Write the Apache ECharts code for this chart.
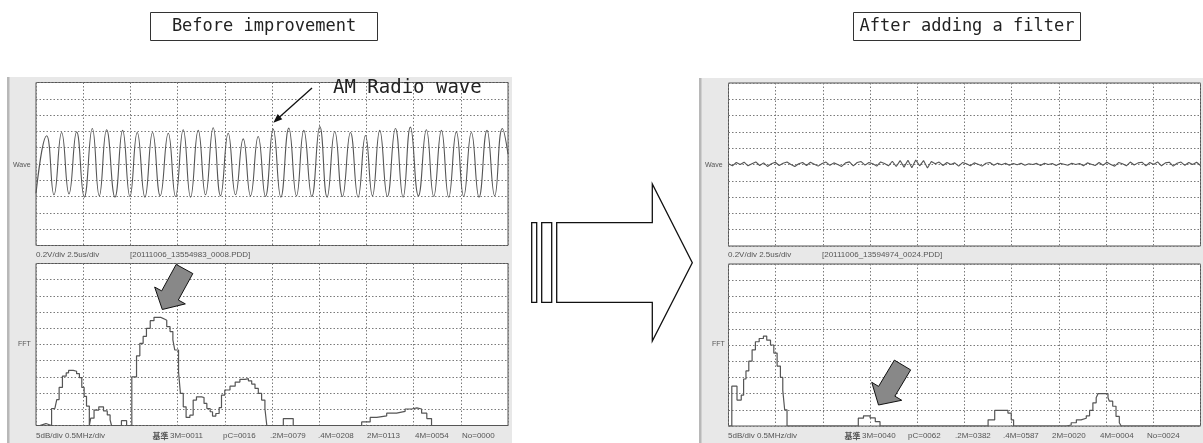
<!DOCTYPE html>
<html><head><meta charset="utf-8">
<script src="https://cdn.jsdelivr.net/npm/echarts@6/dist/echarts.min.js"></script>
<style>html,body{margin:0;padding:0;background:#fff}#c{width:1203px;height:443px}</style>
</head><body><div id="c"></div>
<script>
// ---- Data (time / frequency in divisions, amplitude in divisions) ----
// Before: AM radio wave, extrema
const waveBeforeT = [0,0.226,0.381,0.543,0.699,0.861,1.023,1.193,1.341,1.496,1.673,1.835,1.990,2.145,2.308,2.470,2.632,2.802,2.957,3.119,3.275,3.437,3.592,3.754,3.910,4.072,4.227,4.390,4.545,4.707,4.862,5.025,5.187,5.356,5.519,5.674,5.843,6.013,6.168,6.330,6.493,6.662,6.824,6.980,7.128,7.283,7.445,7.615,7.777,7.932,8.102,8.271,8.426,8.589,8.744,8.906,9.061,9.224,9.386,9.555,9.718,9.880,10];
const waveBeforeV = [-1.8,1.73,-1.89,1.93,-1.83,1.97,-2.03,2.18,-1.95,2.10,-2.03,2.06,-1.99,1.93,-2.03,1.93,-1.95,1.89,-1.99,2.10,-2.03,2.06,-1.89,2.22,-1.95,1.89,-1.89,1.54,-1.95,1.69,-1.99,2.14,-2.03,2.20,-1.95,2.06,-1.99,2.30,-2.03,1.99,-1.99,1.93,-2.03,1.75,-1.95,2.06,-1.99,2.18,-2.03,2.26,-1.95,2.10,-1.99,2.06,-2.03,1.97,-1.99,1.93,-2.03,2.06,-1.95,2.18,0.6];
// After: residual noise, equally spaced samples across the 10 divisions
const waveAfterV = [0.05,-0.08,0.12,0.0,0.14,-0.08,0.05,0.16,-0.06,0.1,-0.12,0.05,0.14,
 -0.06,0.08,0.15,0.0,-0.12,0.05,0.12,-0.06,0.14,0.02,-0.1,0.06,
 0.15,-0.05,0.1,0.0,-0.12,0.1,0.16,-0.08,0.12,0.18,-0.04,0.12,
 0.05,-0.1,0.16,0.06,-0.08,0.2,-0.12,0.24,-0.16,0.26,-0.2,0.28,
 -0.08,0.24,-0.22,0.18,0.04,0.15,-0.06,0.12,0.0,0.1,-0.1,0.12,
 0.04,-0.08,0.1,0.02,-0.1,0.08,0.12,-0.05,0.07,-0.02,0.08,-0.05,
 0.06,-0.02,0.08,-0.04,0.05,0.0,0.07,-0.06,0.08,0.0,0.06,-0.06,
 0.07,0.02,-0.05,0.08,0.0,0.06,-0.08,0.1,0.02,-0.06,0.12,-0.05,
 0.14,0.0,-0.1,0.12,0.05,-0.08,0.15,-0.03,0.1,0.14,-0.08,0.12,
 0.0,0.16,-0.08,0.1,0.14,-0.1,0.08,0.15,-0.05,0.12,0.0,0.14,-0.06];
// FFT step levels: frequency (div, 0.5 MHz/div) where a level starts, and level (div, 5 dB/div)
const fftBeforeF = [0,0.08,0.21,0.33,0.40,0.44,0.49,0.56,0.64,0.69,0.79,0.86,0.92,0.97,1.02,1.07,1.13,1.16,1.23,1.33,1.43,1.51,1.57,1.60,1.81,1.92,2.03,2.13,2.20,2.27,2.34,2.42,2.50,2.64,2.70,2.77,2.84,2.90,2.94,3.02,3.06,3.12,3.18,3.26,3.33,3.40,3.51,3.56,3.62,3.69,3.74,3.81,3.88,3.93,4.00,4.11,4.22,4.32,4.43,4.50,4.57,4.64,4.71,4.78,4.85,4.89,5.24,5.45,6.90,7.08,7.22,7.43,7.64,7.82,7.96,8.07,8.17,8.28,8.38,10];
const fftBeforeL = [0,0.12,0,1.05,1.1,1.6,2.35,3.05,3.25,3.4,3.35,3.2,2.95,2.35,1.8,1.2,0,0.45,0.95,1.15,0.9,0.65,0.35,0,0.3,0,3.0,4.3,5.07,5.5,6.0,6.47,6.68,6.6,6.5,6.1,5.8,5.28,4.66,3.3,1.98,1.15,0.5,0.64,1.57,1.77,1.73,1.36,1.05,0.85,0.58,0.74,1.1,1.88,2.19,2.43,2.68,2.85,2.89,2.76,2.56,2.29,1.98,1.57,1.05,0,0.43,0,0.22,0.5,0.59,0.76,0.87,1.02,1.09,1.02,0.76,0.43,0,0];
const fftAfterF = [0,0.07,0.18,0.27,0.32,0.37,0.43,0.50,0.57,0.65,0.74,0.81,0.89,0.96,1.03,1.10,1.15,1.19,1.24,2.75,2.86,3.00,3.11,3.21,5.50,5.64,5.92,5.99,6.04,7.16,7.26,7.37,7.47,7.58,7.65,7.72,7.79,7.83,8.04,8.07,8.14,8.21,8.28,8.32,10];
const fftAfterL = [0,2.46,1.6,1.9,2.9,3.4,4.0,4.7,5.2,5.4,5.55,5.3,5.0,4.5,3.7,3.0,2.2,1.0,0,0.48,0.63,0.5,0.27,0,0.38,0.96,0.8,0.38,0,0.06,0.2,0.38,0.48,0.63,0.96,1.43,1.74,2.0,1.74,1.53,1.22,0.59,0.2,0,0];

const pairs = (xs, ys) => xs.map((x, i) => [x, ys[i]]);
const afterPairs = waveAfterV.map((v, i) => [i * 10 / (waveAfterV.length - 1), v]);

const chart = echarts.init(document.getElementById('c'), null, {renderer: 'canvas'});

const grids = [
  {left: 36, top: 82.5, width: 472, height: 163},
  {left: 36, top: 263.5, width: 472, height: 162},
  {left: 728.5, top: 83, width: 472, height: 163},
  {left: 728.5, top: 264, width: 472, height: 162}
].map(g => Object.assign({show: true, backgroundColor: '#fff', borderColor: '#555', borderWidth: 1, containLabel: false}, g));

const dotted = {show: true, lineStyle: {color: '#7a7a7a', width: 1, type: [1.5, 2]}};
const xAxes = [0,1,2,3].map(i => ({type: 'value', gridIndex: i, min: 0, max: 10, interval: 1,
  axisLine: {show: false}, axisTick: {show: false}, axisLabel: {show: false}, splitLine: dotted}));
const yAxes = [0,1,2,3].map(i => ({type: 'value', gridIndex: i,
  min: i % 2 === 0 ? -5 : 0, max: i % 2 === 0 ? 5 : 10, interval: 1,
  axisLine: {show: false}, axisTick: {show: false}, axisLabel: {show: false}, splitLine: dotted}));

const lineBase = {type: 'line', symbol: 'none', animation: false, silent: true};
const series = [
  Object.assign({}, lineBase, {xAxisIndex: 0, yAxisIndex: 0, data: pairs(waveBeforeT, waveBeforeV), smooth: 0.5,
    lineStyle: {color: '#555', width: 1.1}}),
  Object.assign({}, lineBase, {xAxisIndex: 1, yAxisIndex: 1, data: pairs(fftBeforeF, fftBeforeL), step: 'end',
    lineStyle: {color: '#555', width: 1.2}}),
  Object.assign({}, lineBase, {xAxisIndex: 2, yAxisIndex: 2, data: afterPairs,
    lineStyle: {color: '#555', width: 1.1}}),
  Object.assign({}, lineBase, {xAxisIndex: 3, yAxisIndex: 3, data: pairs(fftAfterF, fftAfterL), step: 'end',
    lineStyle: {color: '#555', width: 1.2}})
];

// ---- Decorations ----
const small = '8px "Liberation Sans", Arial, sans-serif';
const txtColor = '#555';
function T(x, y, text, font, fill, align, vAlign, z) {
  return {type: 'text', x: x, y: y, z: z || 5, silent: true,
    style: {text: text, font: font || small, fill: fill || txtColor, align: align || 'left', verticalAlign: vAlign || 'middle'}};
}
function arrowPoly(tx, ty, px, py, w, h, hl) {
  const dx = px - tx, dy = py - ty, L = Math.hypot(dx, dy);
  const d = [dx / L, dy / L], n = [d[1], -d[0]];
  const bx = px - hl * d[0], by = py - hl * d[1];
  return [[tx + w*n[0], ty + w*n[1]], [bx + w*n[0], by + w*n[1]], [bx + h*n[0], by + h*n[1]], [px, py],
          [bx - h*n[0], by - h*n[1]], [bx - w*n[0], by - w*n[1]], [tx - w*n[0], ty - w*n[1]]];
}
const graphics = [];
// panels
[[8, 77, 504], [700, 78, 503]].forEach(([x, y, w]) => {
  graphics.push({type: 'rect', z: -10, silent: true, shape: {x: x, y: y, width: w, height: 443 - y}, style: {fill: '#e8e8e8'}});
  graphics.push({type: 'rect', z: -9, silent: true, shape: {x: x - 1, y: y, width: 2.5, height: 443 - y}, style: {fill: '#b8b8b8'}});
});
// titles
[[150, 'Before improvement'], [853, 'After adding a filter']].forEach(([x, t]) => {
  graphics.push({type: 'rect', z: 5, silent: true, shape: {x: x + 0.5, y: 12.5, width: 227, height: 28}, style: {fill: '#fff', stroke: '#333', lineWidth: 1}});
  graphics.push(T(x + 114, 27, t, '17px "DejaVu Sans Mono", monospace', '#222', 'center', 'middle', 6));
});
// scope labels
graphics.push(T(13, 165, 'Wave', '7px "Liberation Sans", Arial, sans-serif'));
graphics.push(T(705, 165, 'Wave', '7px "Liberation Sans", Arial, sans-serif'));
graphics.push(T(18, 344, 'FFT', '7px "Liberation Sans", Arial, sans-serif'));
graphics.push(T(712, 344, 'FFT', '7px "Liberation Sans", Arial, sans-serif'));
graphics.push(T(36, 255, '0.2V/div 2.5us/div'));
graphics.push(T(130, 255, '[20111006_13554983_0008.PDD]'));
graphics.push(T(728, 255, '0.2V/div 2.5us/div'));
graphics.push(T(822, 255, '[20111006_13594974_0024.PDD]'));
const bottomLeft = [[36, '5dB/div 0.5MHz/div'], [170, '3M=0011'], [223, 'pC=0016'], [270, '.2M=0079'], [318, '.4M=0208'], [367, '2M=0113'], [415, '4M=0054'], [462, 'No=0000']];
const bottomRight = [[728, '5dB/div 0.5MHz/div'], [862, '3M=0040'], [908, 'pC=0062'], [955, '.2M=0382'], [1003, '.4M=0587'], [1052, '2M=0020'], [1100, '4M=0004'], [1147, 'No=0024']];
bottomLeft.concat(bottomRight).forEach(([x, t]) => graphics.push(T(x, 435.5, t)));
graphics.push(T(152.5, 435.5, '基準', 'bold 8px "Noto Sans CJK JP", sans-serif', '#555'));
graphics.push(T(844.5, 435.5, '基準', 'bold 8px "Noto Sans CJK JP", sans-serif', '#555'));
// AM radio wave annotation
graphics.push(T(333, 88, 'AM Radio wave', '19px "DejaVu Sans Mono", monospace', '#222', 'left', 'middle', 6));
graphics.push({type: 'line', z: 6, silent: true, shape: {x1: 312, y1: 88, x2: 279, y2: 117.5}, style: {stroke: '#111', lineWidth: 1.3}});
graphics.push({type: 'polygon', z: 6, silent: true, shape: {points: [[273.3, 122.7], [282.3, 119.3], [277.7, 114.1]]}, style: {fill: '#111'}});
// gray markers on FFT peaks
graphics.push({type: 'polygon', z: 20, silent: true, shape: {points: arrowPoly(184.5, 269, 162.3, 309.5, 9.5, 17.5, 16)}, style: {fill: '#888', stroke: '#111', lineWidth: 1}});
graphics.push({type: 'polygon', z: 20, silent: true, shape: {points: arrowPoly(902.5, 365, 878.5, 405, 9.5, 17.5, 16)}, style: {fill: '#888', stroke: '#111', lineWidth: 1}});
// big transition arrow
graphics.push({type: 'rect', z: 6, silent: true, shape: {x: 531.7, y: 222.7, width: 5, height: 79.6}, style: {fill: '#fff', stroke: '#111', lineWidth: 1.3}});
graphics.push({type: 'rect', z: 6, silent: true, shape: {x: 541.7, y: 222.7, width: 10, height: 79.6}, style: {fill: '#fff', stroke: '#111', lineWidth: 1.3}});
graphics.push({type: 'polygon', z: 6, silent: true, shape: {points: [[556.7, 222.7], [652.3, 222.7], [652.3, 184], [692.3, 262.7], [652.3, 341], [652.3, 302.3], [556.7, 302.3]]}, style: {fill: '#fff', stroke: '#111', lineWidth: 1.3}});

chart.setOption({
  animation: false,
  backgroundColor: '#fff',
  grid: grids,
  xAxis: xAxes,
  yAxis: yAxes,
  series: series,
  graphic: {elements: graphics}
});
</script></body></html>
